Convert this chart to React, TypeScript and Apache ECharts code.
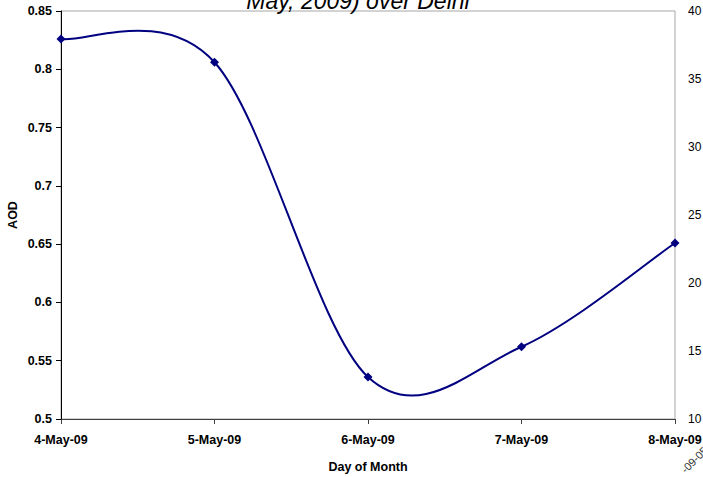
import React, { useEffect, useRef } from "react";
import * as echarts from "echarts";

const days = ["4-May-09", "5-May-09", "6-May-09", "7-May-09", "8-May-09"];
const aod = [0.826, 0.806, 0.536, 0.562, 0.651];
const leftTicks = { min: 0.5, max: 0.85, interval: 0.05 };
const rightTicks = { min: 10, max: 40, interval: 5 };
const titleText = "May, 2009) over Delhi";
const cornerText = "-09-05";

const FONT = "Arial, 'Liberation Sans', sans-serif";
const NAVY = "#000080";
const LABEL_SIZE = 12.5;

// Catmull-Rom style smoothing: one cubic Bezier per pair of neighbouring points.
function renderSegment(params: any, api: any) {
  const i = params.dataIndex;
  if (i >= aod.length - 1) return null;
  const pt = (k: number) => {
    const j = Math.max(0, Math.min(aod.length - 1, k));
    return api.coord([j, aod[j]]);
  };
  const p0 = pt(i - 1);
  const p1 = pt(i);
  const p2 = pt(i + 1);
  const p3 = pt(i + 2);
  return {
    type: "bezierCurve",
    shape: {
      x1: p1[0],
      y1: p1[1],
      x2: p2[0],
      y2: p2[1],
      cpx1: p1[0] + (p2[0] - p0[0]) / 6,
      cpy1: p1[1] + (p2[1] - p0[1]) / 6,
      cpx2: p2[0] - (p3[0] - p1[0]) / 6,
      cpy2: p2[1] - (p3[1] - p1[1]) / 6,
    },
    style: { stroke: NAVY, lineWidth: 2, fill: null },
  };
}

export default function App() {
  const ref = useRef<HTMLDivElement>(null);

  useEffect(() => {
    document.body.style.margin = "0";
    const chart = echarts.init(ref.current!, null, { renderer: "svg" });
    chart.setOption({
      animation: false,
      backgroundColor: "#ffffff",
      textStyle: { fontFamily: FONT },
      grid: {
        left: 61,
        right: 28,
        top: 11,
        bottom: 58,
        containLabel: false,
        outerBoundsMode: "none",
        show: true,
        borderColor: "#a6a6a6",
        borderWidth: 1,
        backgroundColor: "transparent",
      },
      xAxis: {
        type: "category",
        data: days,
        boundaryGap: false,
        axisLine: { show: true, lineStyle: { color: "#404040", width: 1 } },
        axisTick: { show: true, length: 5, alignWithLabel: true, lineStyle: { color: "#404040" } },
        axisLabel: {
          color: "#000",
          fontSize: LABEL_SIZE,
          fontWeight: "bold",
          fontFamily: FONT,
          margin: 14,
          interval: 0,
          showMaxLabel: true,
          showMinLabel: true,
        },
        name: "Day of Month",
        nameLocation: "middle",
        nameGap: 41,
        nameMoveOverlap: false,
        nameTextStyle: { color: "#000", fontSize: LABEL_SIZE, fontWeight: "bold", fontFamily: FONT },
        splitLine: { show: false },
      },
      yAxis: [
        {
          type: "value",
          min: leftTicks.min,
          max: leftTicks.max,
          interval: leftTicks.interval,
          axisLine: { show: true, lineStyle: { color: "#000", width: 1 } },
          axisTick: { show: true, length: 5, lineStyle: { color: "#000" } },
          axisLabel: {
            color: "#000",
            fontSize: LABEL_SIZE,
            fontWeight: "bold",
            fontFamily: FONT,
            margin: 9,
            formatter: (v: number) => String(parseFloat(v.toFixed(2))),
          },
          splitLine: { show: false },
          name: "AOD",
          nameLocation: "middle",
          nameGap: 42,
          nameMoveOverlap: false,
          nameRotate: 90,
          nameTextStyle: { color: "#000", fontSize: LABEL_SIZE, fontWeight: "bold", fontFamily: FONT },
        },
        {
          type: "value",
          position: "right",
          min: rightTicks.min,
          max: rightTicks.max,
          interval: rightTicks.interval,
          axisLine: { show: false },
          axisTick: { show: false },
          axisLabel: { color: "#000", fontSize: 12, fontFamily: FONT, margin: 13 },
          splitLine: { show: false },
        },
      ],
      series: [
        {
          type: "custom",
          yAxisIndex: 0,
          data: aod.map((v, i) => [i, v]),
          renderItem: renderSegment,
          z: 2,
          silent: true,
        },
        {
          type: "line",
          data: aod,
          yAxisIndex: 0,
          symbol: "diamond",
          symbolSize: 9,
          lineStyle: { width: 0, opacity: 0 },
          itemStyle: { color: NAVY },
          z: 3,
        },
      ],
      graphic: [
        {
          type: "text",
          x: 358,
          y: 1,
          style: {
            text: titleText,
            fontSize: 23,
            fontStyle: "italic",
            fontFamily: FONT,
            fill: "#000",
            textAlign: "center",
            textVerticalAlign: "middle",
          },
        },
        {
          type: "text",
          x: 683,
          y: 471,
          rotation: Math.PI / 4,
          style: {
            text: cornerText,
            fontSize: 11,
            fontFamily: FONT,
            fill: "#333",
            textVerticalAlign: "middle",
          },
        },
      ],
    });
    return () => chart.dispose();
  }, []);

  return (
    <div
      ref={ref}
      style={{ position: "absolute", left: 0, top: 0, width: 703, height: 477 }}
    />
  );
}
